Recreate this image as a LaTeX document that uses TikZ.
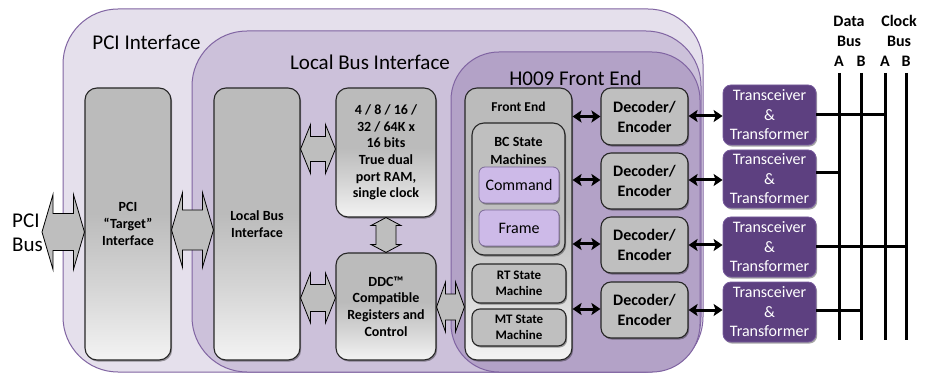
\documentclass[tikz,border=0pt]{standalone}
\usepackage{fontspec}
\setmainfont{Carlito}
\usetikzlibrary{arrows.meta,calc,shadows}

\definecolor{pcibg}{HTML}{E5E0EC}
\definecolor{lbbg}{HTML}{CCC1DA}
\definecolor{febg}{HTML}{B3A2C7}
\definecolor{bgline}{HTML}{8064A2}
\definecolor{gA}{HTML}{F3F3F3}
\definecolor{gB}{HTML}{D6D6D6}
\definecolor{gC}{HTML}{BBBBBB}
\definecolor{boxgray}{HTML}{BFBFBF}
\definecolor{arrgray}{HTML}{BEBEBE}
\definecolor{lav}{HTML}{CDBAE8}
\definecolor{lavline}{HTML}{7B6A96}
\definecolor{trxpurple}{HTML}{5D4080}
\definecolor{trxline}{HTML}{765A9C}

\pgfdeclareverticalshading{grayfade}{100bp}{color(0bp)=(gA); color(25bp)=(gA); color(38bp)=(gB); color(52bp)=(gC); color(100bp)=(gC)}

\tikzset{
  bgbox/.style={draw=bgline, line width=1pt},
  title/.style={font=\fontsize{21}{24}\selectfont, inner sep=0pt},
  shad/.style={drop shadow={shadow xshift=1.2pt, shadow yshift=-1.6pt, opacity=0.35, fill=black}},
  fadebox/.style={shad, draw=black!85, line width=1.1pt, rounded corners=12pt, shading=grayfade,
    inner sep=0pt, align=center, font=\fontsize{14}{16.6}\selectfont\bfseries},
  flatbox/.style={shad, draw=black!85, line width=1.1pt, rounded corners=10pt, fill=boxgray,
    inner sep=0pt, align=center},
  decbox/.style={flatbox, minimum width=87pt, minimum height=56pt, font=\fontsize{16}{20}\selectfont\bfseries},
  smbox/.style={flatbox, rounded corners=8pt, minimum width=94pt, font=\fontsize{13}{15.5}\selectfont\bfseries},
  lavbox/.style={shad, draw=lavline, line width=0.8pt, rounded corners=6pt, fill=lav, inner sep=0pt,
    minimum width=80pt, minimum height=36pt, font=\fontsize{16}{19}\selectfont},
  trxbox/.style={shad, draw=trxline, line width=0.8pt, rounded corners=8pt, fill=trxpurple, text=white,
    inner sep=0pt, align=center, minimum width=93pt, minimum height=60pt, font=\fontsize{16}{19.5}\selectfont},
  blockarrow/.style={draw=black, line width=0.8pt, fill=arrgray, line join=miter},
  smallarrow/.style={line width=3pt, {Stealth[length=9pt,width=12pt,inset=2pt]}-{Stealth[length=9pt,width=12pt,inset=2pt]}},
  busline/.style={line width=3pt},
  buslbl/.style={font=\fontsize{16}{20}\selectfont\bfseries, inner sep=0pt, align=center},
}

% horizontal double block arrow: #1 left tip, #2 right tip, #3 head half width, #4 shaft half width, #5 head length
\newcommand\hdbl[5]{%
  \draw[blockarrow] let \p1=(#1), \p2=(#2) in
    (\x1,\y1) -- (\x1+#5pt,\y1+#3pt) -- (\x1+#5pt,\y1+#4pt) -- (\x2-#5pt,\y1+#4pt) -- (\x2-#5pt,\y1+#3pt)
    -- (\x2,\y1) -- (\x2-#5pt,\y1-#3pt) -- (\x2-#5pt,\y1-#4pt) -- (\x1+#5pt,\y1-#4pt) -- (\x1+#5pt,\y1-#3pt) -- cycle;}
% vertical double block arrow: #1 top tip, #2 bottom tip
\newcommand\vdbl[5]{%
  \draw[blockarrow] let \p1=(#1), \p2=(#2) in
    (\x1,\y1) -- (\x1+#3pt,\y1-#5pt) -- (\x1+#4pt,\y1-#5pt) -- (\x1+#4pt,\y2+#5pt) -- (\x1+#3pt,\y2+#5pt)
    -- (\x1,\y2) -- (\x1-#3pt,\y2+#5pt) -- (\x1-#4pt,\y2+#5pt) -- (\x1-#4pt,\y1-#5pt) -- (\x1-#3pt,\y1-#5pt) -- cycle;}

\begin{document}
\begin{tikzpicture}[x=1pt,y=-1pt]
\useasboundingbox (0,0) rectangle (929,374);

% background layers
\draw[bgbox, fill=pcibg, rounded corners=55pt] (63,9) rectangle (703,372);
\draw[bgbox, fill=lbbg, rounded corners=55pt] (192,31) rectangle (701,372);
\draw[bgbox, fill=febg, rounded corners=48pt] (451,52) rectangle (700,372);

\node[title] (tpci) at (146.5,42) {PCI Interface};
\node[title] (tlb) at (370,62) {Local Bus Interface};
\node[title] (tfe) at (575.5,78) {H009 Front End};

% PCI bus label
\node[font=\fontsize{21}{24}\selectfont, inner sep=0pt, align=left, anchor=west] (pcibuslbl) at (12,233) {PCI\\Bus};

% main gray boxes
\node[fadebox, minimum width=86pt, minimum height=272pt] (pcit) at (128,224) {PCI\\``Target''\\Interface};
\node[fadebox, minimum width=86pt, minimum height=272pt] (lbi) at (257,224) {Local Bus\\Interface};
\node[fadebox, minimum width=100pt, minimum height=129pt] (ram) at (386,152.5)
  {4 / 8 / 16 /\\32 / 64K x\\16 bits\\True dual\\port RAM,\\single clock};
\node[fadebox, minimum width=100pt, minimum height=107pt] (ddc) at (386,306.5)
  {DDC™\\Compatible\\Registers and\\Control};

% front end
\node[fadebox, minimum width=107pt, minimum height=272pt] (fe) at (518.5,224) {};
\node[font=\fontsize{13.5}{16}\selectfont\bfseries, inner sep=0pt] (felbl) at (518.5,107) {Front End};
\node[flatbox, rounded corners=12pt, minimum width=93pt, minimum height=132pt] (bc) at (518.5,189) {};
\node[font=\fontsize{14}{18}\selectfont\bfseries, inner sep=0pt, align=center] (bclbl) at (518.5,151) {BC State\\Machines};
\node[lavbox] (cmd) at (519,185) {Command};
\node[lavbox] (frm) at (519,228) {Frame};
\node[smbox, minimum height=39pt] (rt) at (519,283.5) {RT State\\Machine};
\node[smbox, minimum height=37pt] (mt) at (519,327.5) {MT State\\Machine};

% decoders
\node[decbox, minimum height=57pt] (dec1) at (644.5,116.5) {Decoder/\\Encoder};
\node[decbox] (dec2) at (644.5,181) {Decoder/\\Encoder};
\node[decbox] (dec3) at (644.5,245) {Decoder/\\Encoder};
\node[decbox] (dec4) at (644.5,310) {Decoder/\\Encoder};

% transceivers
\node[trxbox] (trx1) at (769.5,115) {Transceiver\\\&\\Transformer};
\node[trxbox, minimum height=58pt] (trx2) at (769.5,179) {Transceiver\\\&\\Transformer};
\node[trxbox] (trx3) at (769.5,247) {Transceiver\\\&\\Transformer};
\node[trxbox] (trx4) at (769.5,312) {Transceiver\\\&\\Transformer};

% block arrows
\coordinate (pcibus) at (42,232);
\hdbl{pcibus}{pcit.west |- pcibus}{37.5}{18.5}{11}
\hdbl{pcit.east |- 0,230}{lbi.west |- 0,230}{37.5}{20}{11}
\hdbl{lbi.east |- 0,149}{ram.west |- 0,149}{24.5}{12.5}{10}
\hdbl{lbi.east |- 0,298}{ddc.west |- 0,298}{25}{13.5}{10}
\hdbl{ddc.east |- 0,307}{fe.west |- 0,307}{25}{13}{9}
\vdbl{ram.south}{ddc.north}{15}{10}{8}

% small arrows
\draw[smallarrow] (fe.east |- dec1.west) -- (dec1.west);
\draw[smallarrow] (fe.east |- 0,180) -- (dec2.west |- 0,180);
\draw[smallarrow] (fe.east |- 0,244) -- (dec3.west |- 0,244);
\draw[smallarrow] (fe.east |- 0,309) -- (dec4.west |- 0,309);
\draw[smallarrow] (dec1.east |- 0,116) -- (trx1.west |- 0,116);
\draw[smallarrow] (dec2.east |- 0,180) -- (trx2.west |- 0,180);
\draw[smallarrow] (dec3.east |- 0,245) -- (trx3.west |- 0,245);
\draw[smallarrow] (dec4.east |- 0,310) -- (trx4.west |- 0,310);

% bus labels
\node[buslbl] (databus) at (849,31) {Data\\Bus};
\node[buslbl] (clockbus) at (899,31) {Clock\\Bus};
\node[buslbl] (da) at (839,61) {A};
\node[buslbl] (db) at (861,61) {B};
\node[buslbl] (ca) at (885,61) {A};
\node[buslbl] (cb) at (906,61) {B};

% bus lines
\coordinate (daB) at (839,340);
\coordinate (dbB) at (861,340);
\coordinate (caB) at (885,340);
\coordinate (cbB) at (906,340);
\draw[busline] (da.south |- 0,73) -- (daB);
\draw[busline] (db.south |- 0,73) -- (dbB);
\draw[busline] (ca.south |- 0,73) -- (caB);
\draw[busline] (cb.south |- 0,73) -- (cbB);

% stubs
\draw[busline] (trx1.east |- 0,115) -- (caB |- 0,115);
\draw[busline] (trx2.east |- 0,173) -- (daB |- 0,173);
\draw[busline] (trx3.east |- 0,247) -- (cbB |- 0,247);
\draw[busline] (trx4.east |- 0,310) -- (dbB |- 0,310);
\end{tikzpicture}
\end{document}
